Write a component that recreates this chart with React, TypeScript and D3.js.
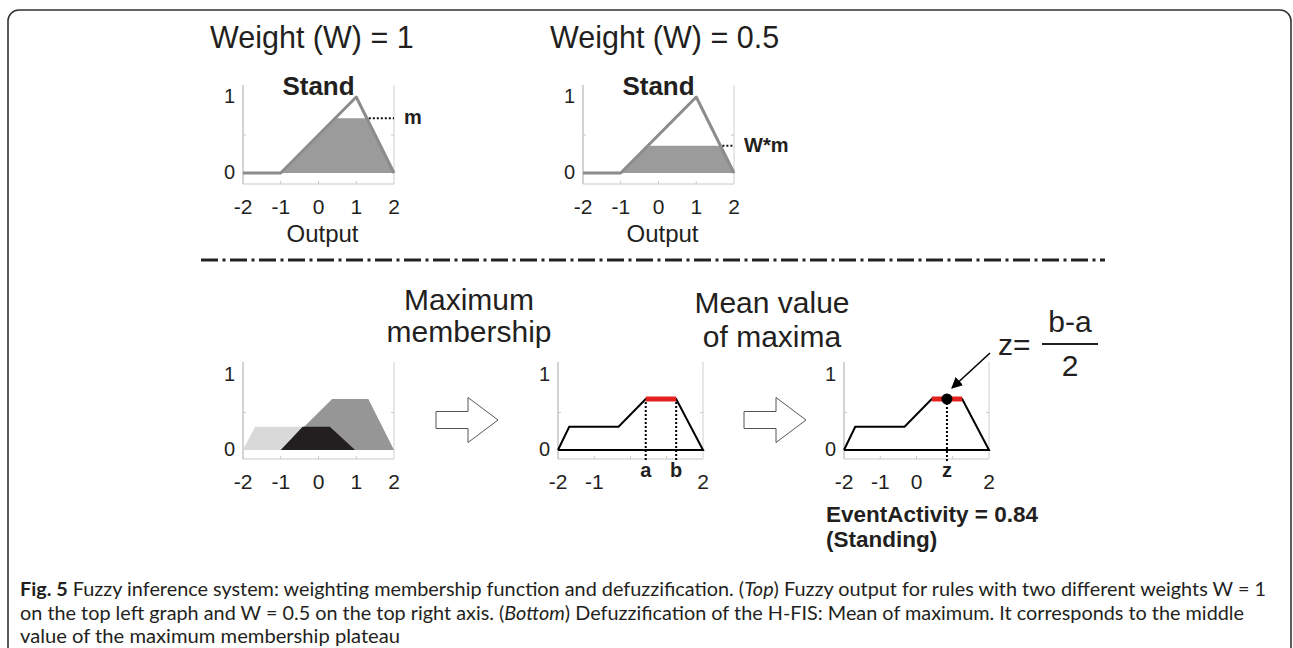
import * as d3 from "d3";

// top row: "Stand" output membership function and rule weights
const standX = [-2, -1, 1, 2];
const standY = [0, 0, 1, 0];
const ruleWeights = [1, 0.5];
const membershipM = 0.72;
const weightTitles = ["Weight (W) = 1", "Weight (W) = 0.5"];
const levelLabels = ["m", "W*m"];
const xTickValues = [-2, -1, 0, 1, 2];

// bottom left: clipped output sets
const sitX = [-2, -1.68, -0.35, 0.3];
const sitY = [0, 0.31, 0.31, 0];
const standCutX = [-1, 0.36, 1.32, 2];
const standCutY = [0, 0.68, 0.68, 0];
const lieX = [-1, -0.42, 0.3, 0.97];
const lieY = [0, 0.31, 0.31, 0];

// aggregated output
const aggX = [-2, -1.69, -0.33, 0.42, 1.26, 2, -2];
const aggY = [0, 0.31, 0.31, 0.68, 0.68, 0, 0];
const plateau = [0.42, 1.26];
const plateauLevel = 0.68;
const zValue = 0.84;

const bottomTickLabels = [
  ["-2", "-1", "0", "1", "2"],
  ["-2", "-1", "", "", "2"],
  ["-2", "-1", "0", "", "2"],
];

// layout
const topRow = { y0: 173, y1: 97, top: 85, bottom: 184 };
const botRow = { y0: 450, y1: 375, top: 362, bottom: 459 };
const topPanels = [[243, 394], [583, 734]];
const botPanels = [[243, 394], [558, 703], [844, 989]];

const FONT = "'Liberation Sans', Arial, sans-serif";
const INK = "#231f20";

const pts = (xs: number[], ys: number[]) => xs.map((x, i) => [x, ys[i]] as [number, number]);

function Axes({ x, y, row, labels }: any) {
  const [left, right] = x.range();
  return (
    <g>
      <line x1={left} x2={left} y1={row.top} y2={row.bottom} stroke="#a8a8a8" />
      <line x1={right} x2={right} y1={row.top} y2={row.bottom} stroke="#cfcfcf" />
      <line x1={left} x2={right} y1={row.bottom} y2={row.bottom} stroke="#c8c8c8" />
      {[-1, 0, 1].map((v) => (
        <line key={v} x1={x(v)} x2={x(v)} y1={row.bottom} y2={row.bottom - 3} stroke="#c8c8c8" />
      ))}
      <line x1={left} x2={left + 3} y1={y(0.5)} y2={y(0.5)} stroke="#c8c8c8" />
      <line x1={right} x2={right - 3} y1={y(0.5)} y2={y(0.5)} stroke="#c8c8c8" />
      {[0, 1].map((v) => (
        <text key={v} x={left - 8} y={y(v) + 6} textAnchor="end" fontSize={20} fill={INK}>
          {v}
        </text>
      ))}
      {xTickValues.map((v, i) =>
        labels[i] ? (
          <text key={v} x={x(v)} y={row.bottom + 30} textAnchor="middle" fontSize={21} fill={INK}>
            {labels[i]}
          </text>
        ) : null
      )}
    </g>
  );
}

function TopPanel({ i }: { i: number }) {
  const [left, right] = topPanels[i];
  const x = d3.scaleLinear().domain([-2, 2]).range([left, right]);
  const y = d3.scaleLinear().domain([0, 1]).range([topRow.y0, topRow.y1]);
  const line = d3.line<[number, number]>().x((d) => x(d[0])).y((d) => y(d[1]));
  const level = membershipM * ruleWeights[i];
  // where the falling edge crosses the level
  const t = (standY[2] - level) / (standY[2] - standY[3]);
  const xc = standX[2] + t * (standX[3] - standX[2]);
  const mid = (left + right) / 2;
  return (
    <g>
      <defs>
        <clipPath id={`cut${i}`}>
          <rect x={left} y={y(level)} width={right - left} height={topRow.bottom - y(level)} />
        </clipPath>
      </defs>
      <text x={left - 33} y={48} fontSize={30.5} fill={INK}>{weightTitles[i]}</text>
      <Axes x={x} y={y} row={topRow} labels={xTickValues.map(String)} />
      <path d={line(pts(standX, standY)) + "Z"} fill="#9b9b9b" clipPath={`url(#cut${i})`} />
      <path d={line(pts(standX, standY))!} fill="none" stroke="#8c8c8c" strokeWidth={3} strokeLinejoin="round" />
      <line x1={x(xc) + 2} x2={right} y1={y(level)} y2={y(level)} stroke="#111" strokeWidth={2} strokeDasharray="2,2" />
      <text x={right + 10} y={y(level) + 6} fontSize={20} fontWeight="bold" fill={INK}>{levelLabels[i]}</text>
      <text x={mid} y={topRow.top + 10} textAnchor="middle" fontSize={26} fontWeight="bold" fill={INK}>Stand</text>
      <text x={mid + 4} y={242} textAnchor="middle" fontSize={24} fill={INK}>Output</text>
    </g>
  );
}

function BottomPanel({ i }: { i: number }) {
  const [left, right] = botPanels[i];
  const x = d3.scaleLinear().domain([-2, 2]).range([left, right]);
  const y = d3.scaleLinear().domain([0, 1]).range([botRow.y0, botRow.y1]);
  const line = d3.line<[number, number]>().x((d) => x(d[0])).y((d) => y(d[1]));
  return (
    <g>
      <Axes x={x} y={y} row={botRow} labels={bottomTickLabels[i]} />
      {i === 0 && (
        <g>
          <path d={line(pts(sitX, sitY)) + "Z"} fill="#d9d9d9" />
          <path d={line(pts(standCutX, standCutY)) + "Z"} fill="#969696" />
          <path d={line(pts(lieX, lieY)) + "Z"} fill="#231f20" />
        </g>
      )}
      {i > 0 && (
        <g>
          <path d={line(pts(aggX, aggY))!} fill="none" stroke="#000" strokeWidth={2} strokeLinejoin="miter" />
          <line x1={x(plateau[0])} x2={x(plateau[1])} y1={y(plateauLevel)} y2={y(plateauLevel)} stroke="#e3201b" strokeWidth={5} />
        </g>
      )}
      {i === 1 &&
        plateau.map((p, k) => (
          <g key={k}>
            <line x1={x(p)} x2={x(p)} y1={y(plateauLevel) + 3} y2={botRow.bottom + 1} stroke="#000" strokeWidth={2} strokeDasharray="2,2" />
            <text x={x(p)} y={477} textAnchor="middle" fontSize={20} fontWeight="bold" fill={INK}>{k === 0 ? "a" : "b"}</text>
          </g>
        ))}
      {i === 2 && (
        <g>
          <line x1={x(zValue)} x2={x(zValue)} y1={y(plateauLevel)} y2={botRow.bottom + 2} stroke="#000" strokeWidth={2} strokeDasharray="2,2" />
          <circle cx={x(zValue)} cy={y(plateauLevel)} r={5.5} fill="#000" />
          <text x={x(zValue)} y={477} textAnchor="middle" fontSize={20} fontWeight="bold" fill={INK}>z</text>
        </g>
      )}
    </g>
  );
}

function BlockArrow({ x0, cy }: { x0: number; cy: number }) {
  const p = [
    [x0, cy - 8.5], [x0 + 32, cy - 8.5], [x0 + 32, cy - 22.5], [x0 + 62, cy],
    [x0 + 32, cy + 22.5], [x0 + 32, cy + 8.5], [x0, cy + 8.5],
  ];
  return <polygon points={p.map((d) => d.join(",")).join(" ")} fill="#fff" stroke="#555" strokeWidth={1} />;
}

export default function App() {
  return (
    <svg width={1293} height={648} style={{ position: "absolute", left: 0, top: 0, background: "#fff" }} fontFamily={FONT}>
      <defs>
        <marker id="head" viewBox="0 0 10 10" refX={9} refY={5} markerWidth={7} markerHeight={7} orient="auto">
          <path d="M0,0 L10,5 L0,10 Z" fill="#000" />
        </marker>
      </defs>
      <rect x={8} y={10} width={1283} height={700} rx={11} fill="none" stroke="#333" strokeWidth={1.6} />

      <TopPanel i={0} />
      <TopPanel i={1} />

      <line x1={201} x2={1105} y1={260} y2={260} stroke="#222" strokeWidth={3} strokeDasharray="17 4.5 3 4.5" />

      <text x={469} y={310} textAnchor="middle" fontSize={30} fill={INK}>Maximum</text>
      <text x={469} y={342} textAnchor="middle" fontSize={30} fill={INK}>membership</text>
      <text x={772} y={313} textAnchor="middle" fontSize={30} fill={INK}>Mean value</text>
      <text x={772} y={347} textAnchor="middle" fontSize={30} fill={INK}>of maxima</text>

      <BottomPanel i={0} />
      <BottomPanel i={1} />
      <BottomPanel i={2} />
      <BlockArrow x0={436} cy={420} />
      <BlockArrow x0={744} cy={420} />

      <line x1={990} y1={353} x2={952} y2={388} stroke="#000" strokeWidth={1.6} markerEnd="url(#head)" />
      <text x={998} y={355} fontSize={30} fill={INK}>z=</text>
      <line x1={1042} x2={1098} y1={344} y2={344} stroke={INK} strokeWidth={2} />
      <text x={1070} y={332} textAnchor="middle" fontSize={30} fill={INK}>b-a</text>
      <text x={1070} y={376} textAnchor="middle" fontSize={30} fill={INK}>2</text>

      <text x={826} y={522} fontSize={22.5} fontWeight="bold" fill={INK}>EventActivity = 0.84</text>
      <text x={826} y={547} fontSize={22.5} fontWeight="bold" fill={INK}>(Standing)</text>

      <g fontFamily="'Liberation Sans Narrow', Lato, sans-serif" fontSize={18.5} fill={INK}>
        <text x={20} y={596} textLength={1246} lengthAdjust="spacingAndGlyphs">
          <tspan fontWeight="bold">Fig. 5</tspan> Fuzzy inference system: weighting membership function and defuzzification. (<tspan fontStyle="italic">Top</tspan>) Fuzzy output for rules with two different weights W = 1
        </text>
        <text x={20} y={620} textLength={1224} lengthAdjust="spacingAndGlyphs">
          on the top left graph and W = 0.5 on the top right axis. (<tspan fontStyle="italic">Bottom</tspan>) Defuzzification of the H-FIS: Mean of maximum. It corresponds to the middle
        </text>
        <text x={20} y={643} textLength={380} lengthAdjust="spacingAndGlyphs">value of the maximum membership plateau</text>
      </g>
    </svg>
  );
}
